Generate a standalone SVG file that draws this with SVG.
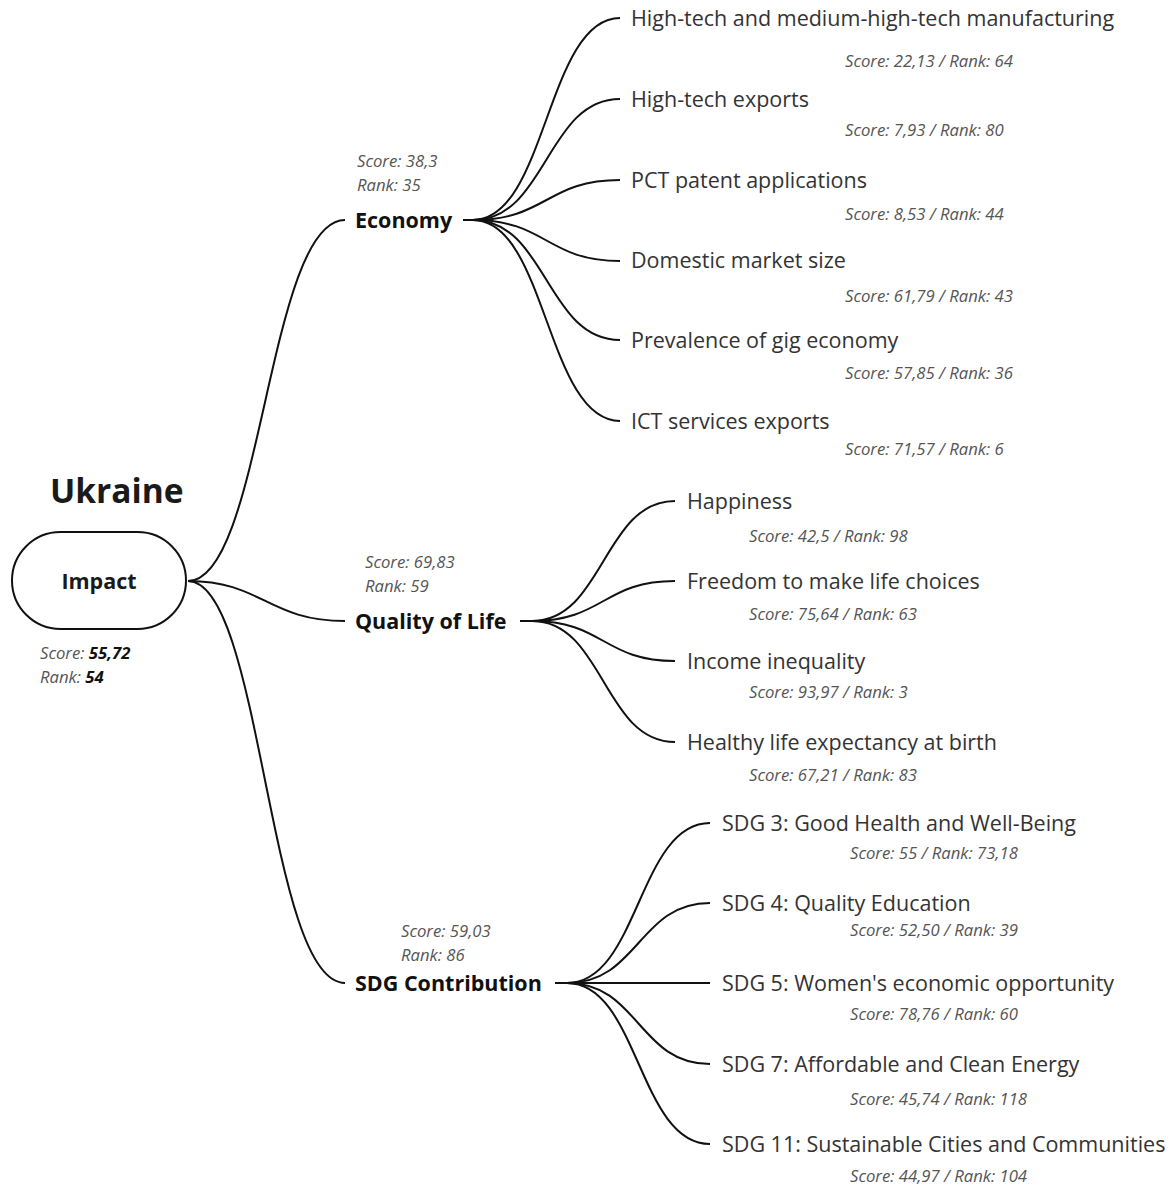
<svg xmlns="http://www.w3.org/2000/svg" width="1174" height="1185" viewBox="0 0 1174 1185">
<style>
text{font-family:"Open Sans","Liberation Sans",sans-serif}
.title{font-size:33.5px;font-weight:700;fill:#1a1a1a}
.root{font-size:21.5px;font-weight:700;fill:#1a1a1a}
.cat{font-size:21.5px;font-weight:700;fill:#111}
.leaf{font-size:21.5px;fill:#333}
.sc{font-size:16.7px;font-style:italic;fill:#555}
.val{font-weight:700;fill:#111}
.pill{fill:#fff;stroke:#111;stroke-width:2}
#connectors path{fill:none;stroke:#111;stroke-width:2}
</style>
<rect width="1174" height="1185" fill="#fff"/>
<g id="connectors">
<path d="M188 581 C262 581 268 220 345 220"/>
<path d="M188 581 C262 581 268 621 345 621"/>
<path d="M188 581 C262 581 268 983 345 983"/>
<path d="M463 220 H473"/>
<path d="M473 220 C546.5 220 546.5 18 620 18"/>
<path d="M473 220 C546.5 220 546.5 99 620 99"/>
<path d="M473 220 C546.5 220 546.5 180 620 180"/>
<path d="M473 220 C546.5 220 546.5 261 620 261"/>
<path d="M473 220 C546.5 220 546.5 340 620 340"/>
<path d="M473 220 C546.5 220 546.5 421 620 421"/>
<path d="M520 621 H532"/>
<path d="M532 621 C603.5 621 603.5 501 675 501"/>
<path d="M532 621 C603.5 621 603.5 581 675 581"/>
<path d="M532 621 C603.5 621 603.5 661 675 661"/>
<path d="M532 621 C603.5 621 603.5 742 675 742"/>
<path d="M555 983 H567"/>
<path d="M567 983 C638.5 983 638.5 823 710 823"/>
<path d="M567 983 C638.5 983 638.5 903 710 903"/>
<path d="M567 983 H710"/>
<path d="M567 983 C638.5 983 638.5 1064 710 1064"/>
<path d="M567 983 C638.5 983 638.5 1144 710 1144"/>
</g>
<g id="title"><text class="title" x="50" y="503">Ukraine</text></g>
<g id="impact">
<rect class="pill" x="12" y="532" width="174" height="97" rx="48.5"/>
<text class="root" x="99" y="589" text-anchor="middle">Impact</text>
<text class="sc" x="40" y="659">Score: <tspan class="val">55,72</tspan></text>
<text class="sc" x="40" y="683">Rank: <tspan class="val">54</tspan></text>
</g>
<g id="economy">
<text class="cat" x="355" y="228">Economy</text>
<text class="sc" x="357" y="167">Score: 38,3</text>
<text class="sc" x="357" y="191">Rank: 35</text>
</g>
<g id="quality-of-life">
<text class="cat" x="355" y="629">Quality of Life</text>
<text class="sc" x="365" y="568">Score: 69,83</text>
<text class="sc" x="365" y="592">Rank: 59</text>
</g>
<g id="sdg-contribution">
<text class="cat" x="355" y="991">SDG Contribution</text>
<text class="sc" x="401" y="937">Score: 59,03</text>
<text class="sc" x="401" y="961">Rank: 86</text>
</g>
<g id="e1"><text class="leaf" x="631" y="26">High-tech and medium-high-tech manufacturing</text><text class="sc" x="845" y="67">Score: 22,13 / Rank: 64</text></g>
<g id="e2"><text class="leaf" x="631" y="107">High-tech exports</text><text class="sc" x="845" y="136">Score: 7,93 / Rank: 80</text></g>
<g id="e3"><text class="leaf" x="631" y="188">PCT patent applications</text><text class="sc" x="845" y="220">Score: 8,53 / Rank: 44</text></g>
<g id="e4"><text class="leaf" x="631" y="268">Domestic market size</text><text class="sc" x="845" y="302">Score: 61,79 / Rank: 43</text></g>
<g id="e5"><text class="leaf" x="631" y="348">Prevalence of gig economy</text><text class="sc" x="845" y="379">Score: 57,85 / Rank: 36</text></g>
<g id="e6"><text class="leaf" x="631" y="429">ICT services exports</text><text class="sc" x="845" y="455">Score: 71,57 / Rank: 6</text></g>
<g id="q1"><text class="leaf" x="687" y="509">Happiness</text><text class="sc" x="749" y="542">Score: 42,5 / Rank: 98</text></g>
<g id="q2"><text class="leaf" x="687" y="589">Freedom to make life choices</text><text class="sc" x="749" y="620">Score: 75,64 / Rank: 63</text></g>
<g id="q3"><text class="leaf" x="687" y="669">Income inequality</text><text class="sc" x="749" y="698">Score: 93,97 / Rank: 3</text></g>
<g id="q4"><text class="leaf" x="687" y="750">Healthy life expectancy at birth</text><text class="sc" x="749" y="781">Score: 67,21 / Rank: 83</text></g>
<g id="s1"><text class="leaf" x="722" y="831">SDG 3: Good Health and Well-Being</text><text class="sc" x="850" y="859">Score: 55 / Rank: 73,18</text></g>
<g id="s2"><text class="leaf" x="722" y="911">SDG 4: Quality Education</text><text class="sc" x="850" y="936">Score: 52,50 / Rank: 39</text></g>
<g id="s3"><text class="leaf" x="722" y="991">SDG 5: Women's economic opportunity</text><text class="sc" x="850" y="1020">Score: 78,76 / Rank: 60</text></g>
<g id="s4"><text class="leaf" x="722" y="1072">SDG 7: Affordable and Clean Energy</text><text class="sc" x="850" y="1105">Score: 45,74 / Rank: 118</text></g>
<g id="s5"><text class="leaf" x="722" y="1152">SDG 11: Sustainable Cities and Communities</text><text class="sc" x="850" y="1182">Score: 44,97 / Rank: 104</text></g>
</svg>
